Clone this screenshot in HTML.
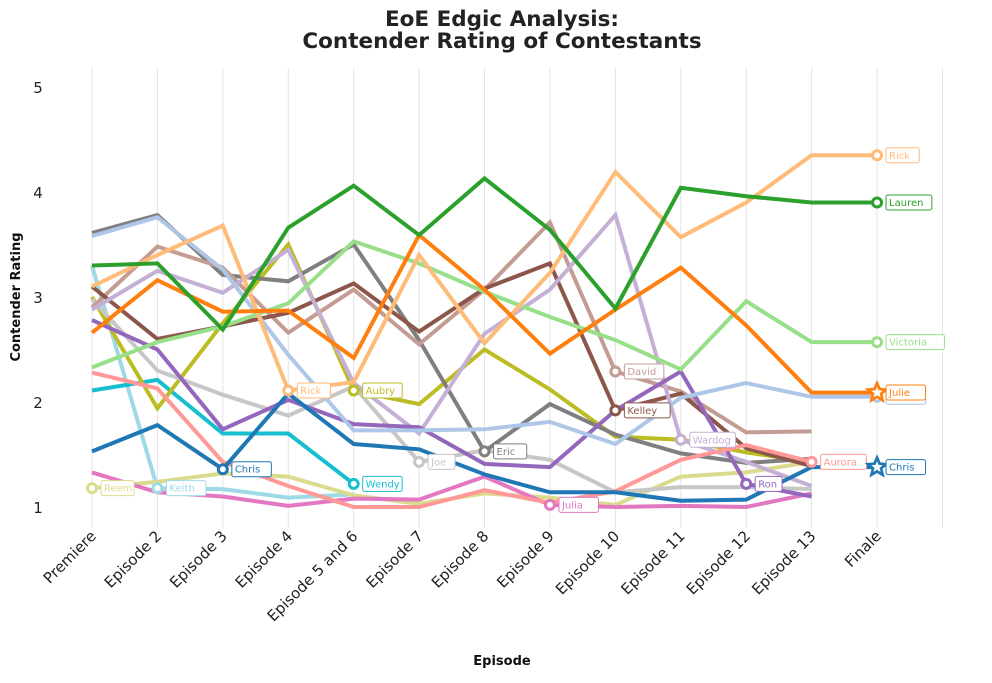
<!DOCTYPE html>
<html><head><meta charset="utf-8"><style>
body{margin:0;background:#fff}
svg{font-family:"DejaVu Sans","Liberation Sans",sans-serif}
</style></head><body>
<svg id="chart" width="992" height="678" xmlns="http://www.w3.org/2000/svg">
<g id="grid"></g>
<g id="axes"></g>
<g id="lines"></g>
<g id="marks"></g>
<text x="502" y="26" text-anchor="middle" font-size="21.5" font-weight="bold" fill="#222">EoE Edgic Analysis:</text>
<text x="502" y="48" text-anchor="middle" font-size="21.5" font-weight="bold" fill="#222">Contender Rating of Contestants</text>
<text x="502" y="665" text-anchor="middle" font-size="13" font-weight="bold" fill="#111">Episode</text>
<text transform="translate(20,297) rotate(-90)" text-anchor="middle" font-size="13" font-weight="bold" fill="#111">Contender Rating</text>
</svg>
<script>
const categories=["Premiere","Episode 2","Episode 3","Episode 4","Episode 5 and 6","Episode 7","Episode 8","Episode 9","Episode 10","Episode 11","Episode 12","Episode 13","Finale"];
const yTicks=[1,2,3,4,5];
const seriesNames=["Chris","Devon","Julie","Rick","Lauren","Victoria","Aurora","Ron","Wardog","Kelley","David","Julia","Eric","Joe","Aubry","Reem","Wendy","Keith"];
const seriesColors=["#1f77b4","#aec7e8","#ff7f0e","#ffbb78","#2ca02c","#98df8a","#ff9896","#9467bd","#c5b0d5","#8c564b","#c49c94","#e377c2","#7f7f7f","#c7c7c7","#bcbd22","#dbdb8d","#17becf","#9edae5"];
const chrisVals=[1.53,1.78,1.36,2.08,1.6,1.55,1.31,1.14,1.14,1.06,1.07,1.38,1.38];
const devonVals=[3.58,3.76,3.26,2.45,1.73,1.73,1.74,1.81,1.6,2.04,2.18,2.05,2.05];
const julieVals=[2.66,3.16,2.86,2.87,2.42,3.59,3.07,2.46,2.88,3.28,2.73,2.09,2.09];
const rickVals=[3.1,3.4,3.68,2.11,2.19,3.4,2.56,3.23,4.19,3.57,3.9,4.35,4.35];
const laurenVals=[3.3,3.32,2.69,3.66,4.06,3.59,4.13,3.64,2.89,4.04,3.96,3.9,3.9];
const victoriaVals=[2.33,2.57,2.72,2.94,3.53,3.32,3.05,2.81,2.59,2.31,2.96,2.57,2.57];
const auroraVals=[2.28,2.13,1.43,1.2,1.0,1.0,1.16,1.04,1.15,1.45,1.59,1.43,null];
const ronVals=[2.78,2.5,1.74,2.02,1.79,1.76,1.41,1.38,1.92,2.29,1.22,1.1,null];
const wardogVals=[2.88,3.25,3.04,3.45,2.18,1.7,2.65,3.07,3.78,1.64,1.43,1.2,null];
const kelleyVals=[3.1,2.6,2.72,2.85,3.13,2.67,3.08,3.32,1.92,2.08,1.56,1.39,null];
const davidVals=[2.9,3.48,3.28,2.66,3.07,2.55,3.07,3.71,2.29,2.1,1.71,1.72,null];
const juliaVals=[1.33,1.14,1.1,1.01,1.08,1.07,1.29,1.02,1.0,1.01,1.0,1.13,null];
const ericVals=[3.61,3.78,3.21,3.15,3.5,2.59,1.53,1.98,1.69,1.51,1.42,1.46,null];
const joeVals=[2.98,2.3,2.07,1.87,2.15,1.43,1.54,1.45,1.14,1.19,1.19,1.17,null];
const aubryVals=[3.0,1.94,2.75,3.5,2.11,1.98,2.5,2.12,1.67,1.64,1.52,1.43,null];
const reemVals=[1.18,1.24,1.32,1.29,1.11,1.03,1.13,1.09,1.02,1.29,1.33,1.43,null];
const wendyVals=[2.11,2.21,1.7,1.7,1.22,null,null,null,null,null,null,null,null];
const keithVals=[3.3,1.18,1.17,1.09,1.12,null,null,null,null,null,null,null,null];
const seriesValues=[chrisVals,devonVals,julieVals,rickVals,laurenVals,victoriaVals,auroraVals,ronVals,wardogVals,kelleyVals,davidVals,juliaVals,ericVals,joeVals,aubryVals,reemVals,wendyVals,keithVals];
const labelSeries=["Reem","Keith","Chris","Rick","Aubry","Wendy","Joe","Eric","Julia","David","Kelley","Wardog","Ron","Aurora","Rick","Lauren","Victoria","Devon","Julie","Chris"];
const labelIndex=[0,1,2,3,4,4,5,6,7,8,8,9,10,11,12,12,12,12,12,12];
const labelStar=[0,0,0,0,0,0,0,0,0,0,0,0,0,0,0,0,0,0,1,1];

const NS="http://www.w3.org/2000/svg";
const X0=92,DX=65.42,Y1=507,DY=105;
function xs(i){return X0+i*DX;}
function ys(v){return Y1-(v-1)*DY;}
function mk(tag,attrs,parent){const e=document.createElementNS(NS,tag);for(const k in attrs)e.setAttribute(k,attrs[k]);parent.appendChild(e);return e;}
const grid=document.getElementById('grid'),axes=document.getElementById('axes'),lines=document.getElementById('lines'),marks=document.getElementById('marks');
for(let i=0;i<=categories.length;i++){
  const g=mk('line',{x1:xs(i),x2:xs(i),y1:68,y2:528,stroke:'#e3e3e3','stroke-width':1},grid);
  
  
}
categories.forEach((c,i)=>{
  const t=mk('text',{transform:`translate(${xs(i)+5},${537}) rotate(-45)`,'text-anchor':'end','font-size':15,fill:'#222'},axes);
  t.textContent=c;
  
  
});
yTicks.forEach(v=>{
  const t=mk('text',{x:38,y:ys(v)+6,'text-anchor':'middle','font-size':15,fill:'#222'},axes);
  t.textContent=v;
  
  
});
const order=[17,16,15,14,13,12,11,10,9,8,7,6,1,5,3,2,4,0];
order.forEach(s=>{
  const pts=[];seriesValues[s].forEach((v,i)=>{if(v!==null)pts.push(xs(i).toFixed(1)+','+ys(v).toFixed(1));});
  const p=mk('polyline',{points:pts.join(' '),fill:'none',stroke:seriesColors[s],'stroke-width':4,'stroke-linejoin':'miter'},lines);
  
  
});
function starPts(cx,cy,r){const a=[];for(let k=0;k<10;k++){const rr=k%2?r*0.45:r;const ang=-Math.PI/2+k*Math.PI/5;a.push((cx+rr*Math.cos(ang)).toFixed(1)+','+(cy+rr*Math.sin(ang)).toFixed(1));}return a.join(' ');}
labelSeries.forEach((name,j)=>{
  const s=seriesNames.indexOf(name),i=labelIndex[j],v=seriesValues[s][i];
  const cx=xs(i),cy=ys(v),col=seriesColors[s];
  if(labelStar[j]){
    const st=mk('polygon',{points:starPts(cx,cy,13),fill:col},marks);
    
    
    const st2=mk('polygon',{points:starPts(cx,cy,6),fill:'#fff'},marks);
    
    
  } else {
    const c=mk('circle',{cx:cx,cy:cy,r:4.5,fill:'#fff',stroke:col,'stroke-width':3},marks);
    
    
  }
  const w=name.length*6.3+8;
  const r=mk('rect',{x:cx+9,y:cy-7.5,width:w,height:15,rx:2,fill:'#fff',stroke:col,'stroke-width':1},marks);
  
  
  const t=mk('text',{x:cx+12,y:cy+3.5,'font-size':10,fill:col},marks);
  t.textContent=name;
  
  
});
</script>
</body></html>
